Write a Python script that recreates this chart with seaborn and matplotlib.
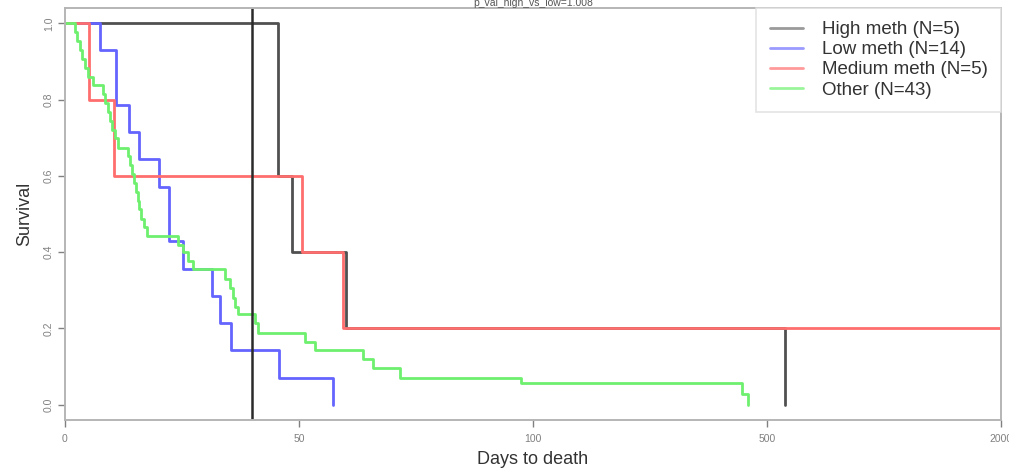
import numpy as np
import pandas as pd
import matplotlib
matplotlib.use("Agg")
import matplotlib.pyplot as plt
from matplotlib.lines import Line2D
import seaborn as sns

# Kaplan-Meier step curves per methylation group (day of step, survival after step)
groups = ["High meth (N=5)", "Low meth (N=14)", "Medium meth (N=5)", "Other (N=43)"]

high_days = [0, 45.5, 48.6, 60.0, 615.0]
high_surv = [1.0, 0.6, 0.4, 0.2, 0.0]

low_days = [0, 7.5, 10.9, 13.7, 15.9, 20.1, 22.3, 25.3, 31.5, 33.1, 35.4, 45.7, 57.3]
low_surv = [1.0, 0.929, 0.786, 0.714, 0.643, 0.571, 0.429, 0.357, 0.286, 0.214,
            0.143, 0.071, 0.0]

medium_days = [0, 5.2, 10.5, 50.6, 59.4, 2000.0]
medium_surv = [1.0, 0.8, 0.6, 0.4, 0.2, 0.2]

other_days = [0, 2.1, 2.6, 3.1, 3.6, 4.3, 5.0, 6.0, 8.2, 8.6, 9.1, 9.6, 10.1, 10.7,
              11.4, 13.5, 13.9, 14.3, 14.7, 15.1, 15.5, 15.9, 16.3, 16.8, 17.5,
              24.2, 25.2, 26.3, 27.4, 34.2, 35.3, 35.8, 36.3, 37.0, 40.6, 41.3,
              51.3, 53.4, 63.7, 65.9, 71.6, 97.4, 457.0, 467.0]
other_surv = [1.0, 0.977, 0.953, 0.930, 0.907, 0.884, 0.860, 0.837, 0.814, 0.791,
              0.767, 0.744, 0.721, 0.698, 0.674, 0.651, 0.628, 0.605, 0.581, 0.558,
              0.535, 0.512, 0.488, 0.465, 0.442, 0.420, 0.400, 0.378, 0.355, 0.330,
              0.305, 0.280, 0.256, 0.237, 0.213, 0.187, 0.165, 0.143, 0.120, 0.096,
              0.070, 0.057, 0.029, 0.0]

cutoff_day = 40
x_ticks = [0, 50, 100, 500, 2000]
y_ticks = [0.0, 0.2, 0.4, 0.6, 0.8, 1.0]
title_text = "p_val_high_vs_low=1.008"

colors = {groups[0]: "#505050", groups[1]: "#6464ff",
          groups[2]: "#ff6e6e", groups[3]: "#6ef06e"}
legend_colors = {groups[0]: "#9a9a9a", groups[1]: "#9a9aff",
                 groups[2]: "#ff9a9a", groups[3]: "#9af59a"}

frames = []
for name, d, s in zip(groups,
                      [high_days, low_days, medium_days, other_days],
                      [high_surv, low_surv, medium_surv, other_surv]):
    frames.append(pd.DataFrame({"days": d, "surv": s, "group": name}))
df = pd.concat(frames, ignore_index=True)

sns.set_theme(style="white")
plt.rcParams["font.family"] = ["Liberation Sans", "DejaVu Sans"]

fig = plt.figure(figsize=(10.09, 4.71), dpi=100)
ax = fig.add_axes([65 / 1009, 1 - 420 / 471, (1001 - 65) / 1009, (420 - 8) / 471])

# piecewise-linear day axis with equally spaced breakpoints
brk_pos = np.arange(len(x_ticks), dtype=float)
brk_day = np.array(x_ticks, dtype=float)


def fwd(x):
    x = np.asarray(x, dtype=float)
    lo = (x - brk_day[0]) / (brk_day[1] - brk_day[0])
    hi = brk_pos[-1] + (x - brk_day[-1]) / (brk_day[-1] - brk_day[-2])
    return np.where(x < brk_day[0], lo,
                    np.where(x > brk_day[-1], hi, np.interp(x, brk_day, brk_pos)))


def inv(p):
    p = np.asarray(p, dtype=float)
    lo = brk_day[0] + p * (brk_day[1] - brk_day[0])
    hi = brk_day[-1] + (p - brk_pos[-1]) * (brk_day[-1] - brk_day[-2])
    return np.where(p < brk_pos[0], lo,
                    np.where(p > brk_pos[-1], hi, np.interp(p, brk_pos, brk_day)))


ax.set_xscale("function", functions=(fwd, inv))

sns.lineplot(data=df, x="days", y="surv", hue="group", hue_order=groups,
             palette=colors, estimator=None, drawstyle="steps-post",
             linewidth=2.0, legend=False, ax=ax)

ax.axvline(cutoff_day, color="#2a2a2a", linewidth=1.8)

ax.set_xlim(0, 2000)
ax.set_ylim(-0.04, 1.04)
ax.set_xticks(x_ticks)
ax.set_xticklabels([str(t) for t in x_ticks])
ax.set_yticks(y_ticks)
ax.set_yticklabels([f"{t:.1f}" for t in y_ticks], rotation=90, va="center")
ax.tick_params(axis="both", labelsize=7.5, colors="#808080", length=5, width=1,
               direction="out", left=True, bottom=True, pad=5)
ax.tick_params(axis="y", pad=3)

for sp in ax.spines.values():
    sp.set_visible(True)
    sp.set_color("#b5b5b5")
    sp.set_linewidth(1.4)

ax.set_xlabel("Days to death", fontsize=13, color="#333333", labelpad=5)
ax.set_ylabel("Survival", fontsize=13, color="#333333", labelpad=8)

fig.text(533 / 1009, 1 - 3 / 471, title_text, fontsize=7.5, color="#555555",
         ha="center", va="center")

handles = [Line2D([0], [0], color=legend_colors[g], lw=2.0) for g in groups]
leg = ax.legend(handles, groups, loc="upper right", bbox_to_anchor=(1, 1),
                borderaxespad=0, fontsize=13.5, frameon=True, fancybox=False,
                handlelength=1.8, handletextpad=1.0, labelspacing=0.16,
                borderpad=0.7)
leg.get_frame().set_edgecolor("#dddddd")
leg.get_frame().set_linewidth(1.2)
for t in leg.get_texts():
    t.set_color("#333333")

fig.savefig("out.png", dpi=100)
